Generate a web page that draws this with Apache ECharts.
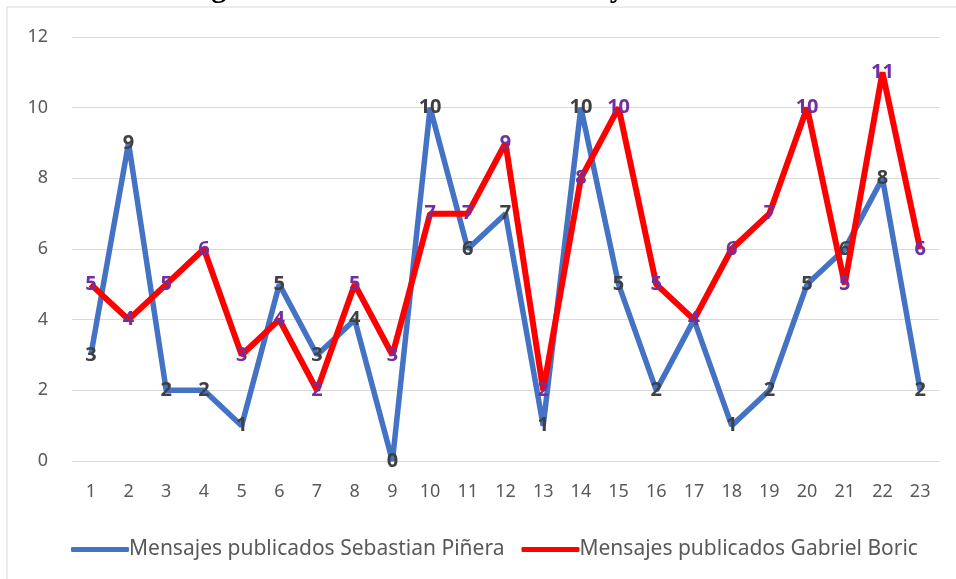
<!DOCTYPE html>
<html>
<head>
<meta charset="utf-8">
<script src="https://cdn.jsdelivr.net/npm/echarts@6/dist/echarts.min.js"></script>
<style>
  html, body { margin: 0; padding: 0; background: #fff; }
  #main { width: 956px; height: 579px; }
</style>
</head>
<body>
<div id="main"></div>
<script>
var days = ['1','2','3','4','5','6','7','8','9','10','11','12','13','14','15','16','17','18','19','20','21','22','23'];
var pinera = [3, 9, 2, 2, 1, 5, 3, 4, 0, 10, 6, 7, 1, 10, 5, 2, 4, 1, 2, 5, 6, 8, 2];
var boric = [5, 4, 5, 6, 3, 4, 2, 5, 3, 7, 7, 9, 2, 8, 10, 5, 4, 6, 7, 10, 5, 11, 6];
var yTicks = [0, 2, 4, 6, 8, 10, 12];

var chart = echarts.init(document.getElementById('main'));
var font = 'Noto Sans';

var option = {
    animation: false,
    graphic: [
        {
            type: 'rect',
            shape: { x: 7, y: 7, width: 1000, height: 600 },
            style: { fill: 'none', stroke: '#d9d9d9', lineWidth: 1 },
            silent: true
        },
        {
            type: 'text',
            x: 462,
            y: 4,
            style: {
                text: 'Tweets generados de Sebastian Piñera y Gabriel Boric',
                font: 'bold 30px "Liberation Serif"',
                fill: '#000',
                align: 'center',
                verticalAlign: 'bottom'
            }
        }
    ],
    grid: { left: 72, right: 17, top: 37, bottom: 118 },
    legend: {
        top: 534,
        left: 66,
        itemWidth: 58,
        itemHeight: 5,
        itemGap: 17,
        icon: 'roundRect',
        textStyle: { fontFamily: font, fontSize: 21, color: '#595959', padding: [0, 0, 0, -5] },
        data: ['Mensajes publicados Sebastian Piñera', 'Mensajes publicados Gabriel Boric']
    },
    xAxis: {
        type: 'category',
        data: days,
        boundaryGap: true,
        axisLine: { show: false },
        axisTick: { show: false },
        axisLabel: { fontFamily: font, fontSize: 18, color: '#595959', margin: 22 }
    },
    yAxis: {
        type: 'value',
        min: yTicks[0],
        max: yTicks[yTicks.length - 1],
        interval: 2,
        axisLabel: { fontFamily: font, fontSize: 18, color: '#595959', margin: 24 },
        splitLine: { lineStyle: { color: '#d9d9d9', width: 1 } }
    },
    series: [
        {
            name: 'Mensajes publicados Sebastian Piñera',
            type: 'line',
            data: pinera,
            symbol: 'circle',
            symbolSize: 0,
            showSymbol: true,
            lineStyle: { color: '#4472C4', width: 5.5 },
            itemStyle: { color: '#4472C4' },
            label: {
                show: true,
                position: 'inside',
                fontFamily: font,
                fontWeight: 'bold',
                fontSize: 20,
                color: '#404040'
            },
            z: 2
        },
        {
            name: 'Mensajes publicados Gabriel Boric',
            type: 'line',
            data: boric,
            symbol: 'circle',
            symbolSize: 0,
            showSymbol: true,
            lineStyle: { color: '#FF0000', width: 6 },
            itemStyle: { color: '#FF0000' },
            label: {
                show: true,
                position: 'inside',
                fontFamily: font,
                fontWeight: 'bold',
                fontSize: 20,
                color: '#7030A0'
            },
            z: 3
        }
    ]
};
chart.setOption(option);
</script>
</body>
</html>
